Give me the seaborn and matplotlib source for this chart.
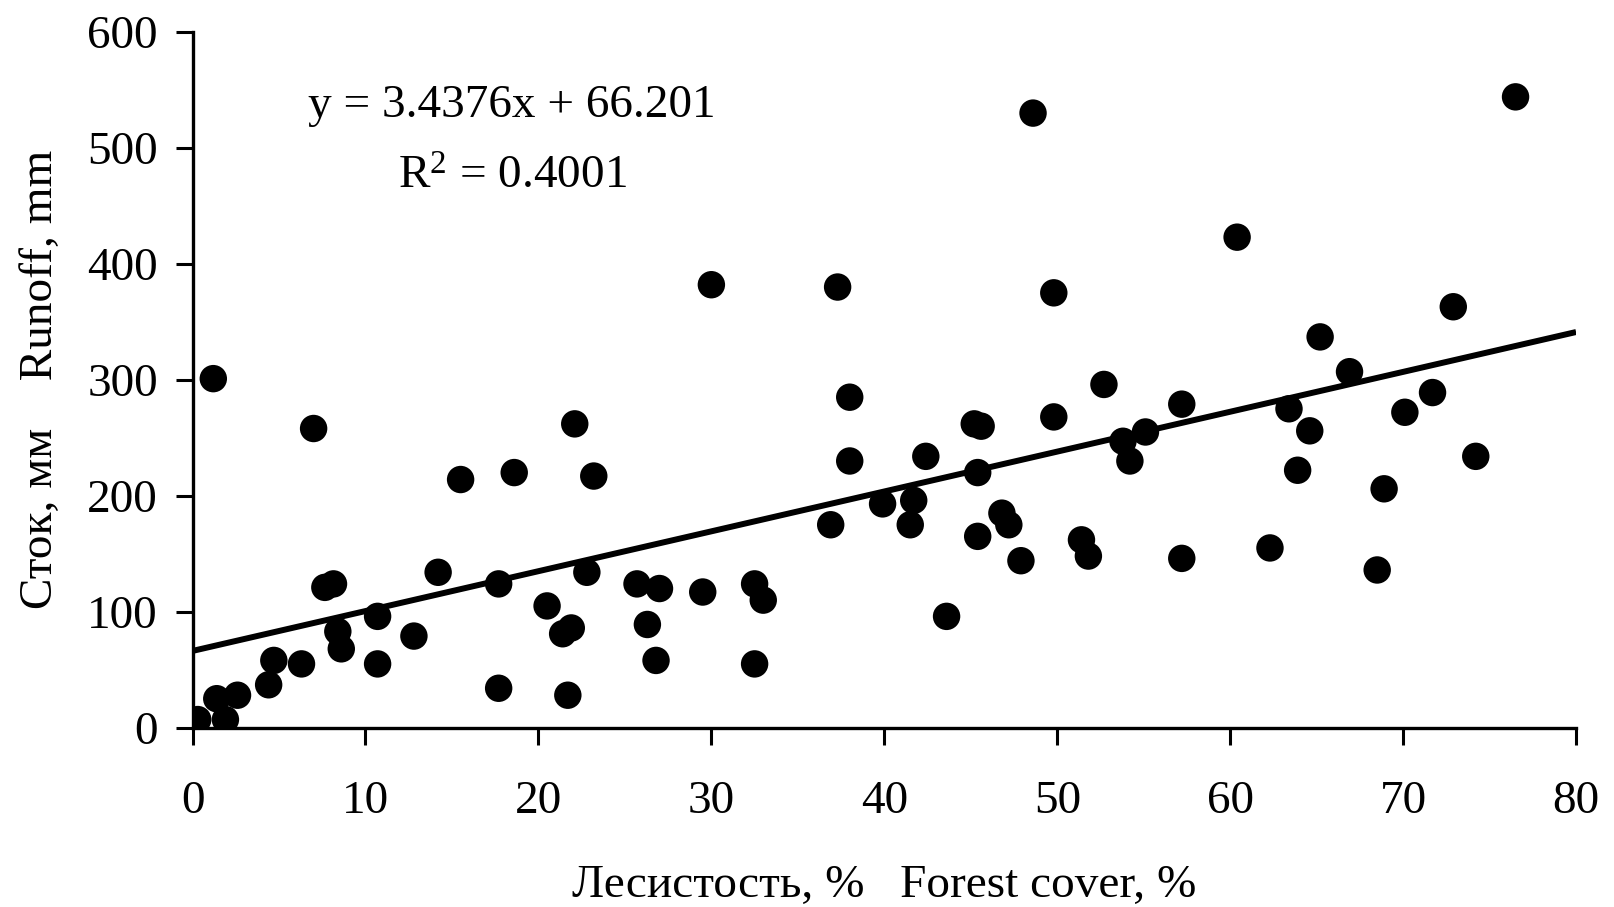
import matplotlib
matplotlib.use("Agg")
import matplotlib.pyplot as plt
import seaborn as sns
import numpy as np
import pandas as pd

forest = [0.3, 1.2, 1.4, 1.9, 2.6, 4.4, 4.7, 6.3, 7.0, 7.65, 8.15, 8.4, 8.6, 10.7, 10.7,
          12.8, 14.2, 15.5, 17.7, 17.7, 18.6, 20.5, 21.4, 21.7, 21.9, 22.1, 22.8, 23.2,
          25.7, 26.3, 26.8, 27.0, 29.5, 30.0, 32.5, 32.5, 33.0, 36.9, 37.3, 38.0, 38.0,
          39.9, 41.5, 41.7, 42.4, 43.6, 45.2, 45.4, 45.4, 45.6, 46.8, 47.2, 47.9, 48.6,
          49.8, 49.8, 51.4, 51.8, 52.7, 53.8, 54.2, 55.1, 57.2, 57.2, 60.4, 62.3, 63.4,
          63.9, 64.6, 65.2, 66.9, 68.5, 68.9, 70.1, 71.7, 72.9, 74.2, 76.5]
runoff = [7, 301, 25, 7, 28, 37, 58, 55, 258, 121, 124, 83, 68, 96, 55,
          79, 134, 214, 124, 34, 220, 105, 81, 28, 86, 262, 134, 217,
          124, 89, 58, 120, 117, 382, 124, 55, 110, 175, 380, 285, 230,
          193, 175, 196, 234, 96, 262, 220, 165, 260, 185, 175, 144, 530,
          375, 268, 162, 148, 296, 247, 230, 255, 279, 146, 423, 155, 275,
          222, 256, 337, 307, 136, 206, 272, 289, 363, 234, 544]

slope = 3.4376
intercept = 66.201
r_squared = 0.4001

x_ticks = [0, 10, 20, 30, 40, 50, 60, 70, 80]
y_ticks = [0, 100, 200, 300, 400, 500, 600]

x_label = "Лесистость, %   Forest cover, %"
y_label = "Сток, мм    Runoff, mm"

sns.set_style("ticks")
plt.rcParams["font.family"] = ["Liberation Serif", "DejaVu Serif"]
plt.rcParams["mathtext.fontset"] = "custom"
plt.rcParams["mathtext.rm"] = "Liberation Serif"
plt.rcParams["text.color"] = "black"
plt.rcParams["axes.labelcolor"] = "black"

df = pd.DataFrame({"forest": forest, "runoff": runoff})

fig = plt.figure(figsize=(16.14, 9.07), dpi=100)
ax = fig.add_axes([0.1193, 0.1977, 0.9765 - 0.1193, 0.9648 - 0.1977])

sns.scatterplot(data=df, x="forest", y="runoff", ax=ax, color="black",
                s=390, linewidth=0, edgecolor="none", zorder=3)

xl = np.array([x_ticks[0], x_ticks[-1]])
ax.plot(xl, slope * xl + intercept, color="black", lw=4.3, zorder=2,
        solid_capstyle="butt")

ax.set_xlim(x_ticks[0], x_ticks[-1])
ax.set_ylim(y_ticks[0], y_ticks[-1])
ax.set_xticks(x_ticks)
ax.set_yticks(y_ticks)

for s in ["top", "right"]:
    ax.spines[s].set_visible(False)
for s in ["left", "bottom"]:
    ax.spines[s].set_linewidth(2.4)
    ax.spines[s].set_color("black")

ax.tick_params(axis="both", direction="out", length=12, width=2.2,
               labelsize=34, colors="black")
ax.tick_params(axis="x", pad=26)
ax.tick_params(axis="y", pad=13)

ax.set_xlabel(x_label, fontsize=34, labelpad=30, color="black")
ax.set_ylabel(y_label, fontsize=34, labelpad=18, color="black")

ax.text(0.231, 0.8935, f"y = {slope}x + {intercept}", transform=ax.transAxes,
        ha="center", va="center", fontsize=34, color="black")
ax.text(0.231, 0.791, r"$\mathregular{R^2}$ = " + f"{r_squared}", transform=ax.transAxes,
        ha="center", va="center", fontsize=34, color="black")

fig.savefig("out.png", dpi=100, facecolor="white")
